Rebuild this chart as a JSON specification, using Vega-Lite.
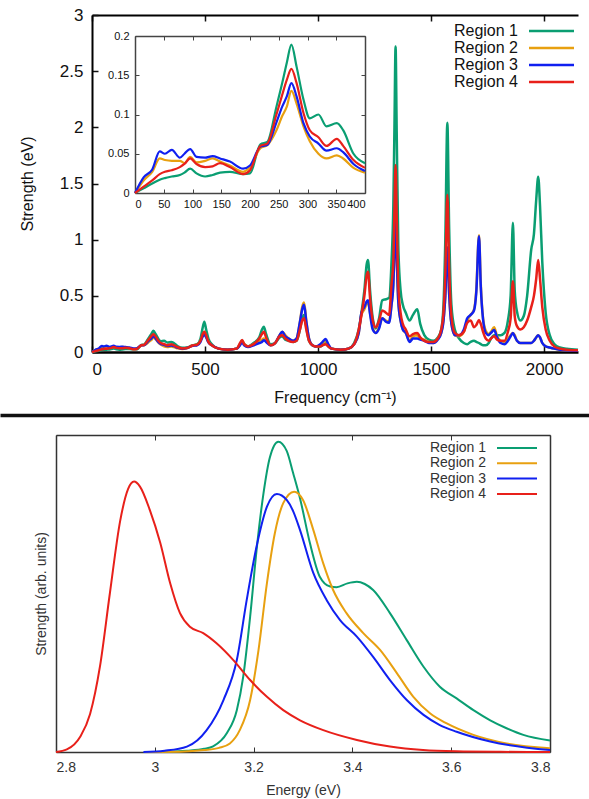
{
"$schema": "https://vega.github.io/schema/vega-lite/v6.json",
"width": 589, "height": 799, "autosize": {"type": "none"}, "padding": 0,
"config": {"view": {"stroke": null}, "font": "Liberation Sans",
 "axis": {"grid": false, "labelFont": "Liberation Sans", "titleFont": "Liberation Sans", "labelColor": "#111", "titleColor": "#111", "titleFontWeight": "normal", "domainColor": "#111", "tickColor": "#111"},
 "legend": {"labelFont": "Liberation Sans", "labelColor": "#111"}},
"datasets": {
"top": [
{"f":0,"R1":0,"R2":0,"R3":0,"R4":0},
{"f":15,"R1":0.006,"R2":0.016,"R3":0.02,"R4":0.008},
{"f":30,"R1":0.012,"R2":0.027,"R3":0.03,"R4":0.016},
{"f":43,"R1":0.017,"R2":0.044,"R3":0.053,"R4":0.024},
{"f":52,"R1":0.019,"R2":0.042,"R3":0.05,"R4":0.027},
{"f":64,"R1":0.021,"R2":0.041,"R3":0.055,"R4":0.029},
{"f":78,"R1":0.023,"R2":0.041,"R3":0.045,"R4":0.033},
{"f":86,"R1":0.026,"R2":0.038,"R3":0.05,"R4":0.037},
{"f":96,"R1":0.031,"R2":0.046,"R3":0.056,"R4":0.044},
{"f":107,"R1":0.025,"R2":0.039,"R3":0.046,"R4":0.037},
{"f":122,"R1":0.021,"R2":0.041,"R3":0.045,"R4":0.033},
{"f":135,"R1":0.023,"R2":0.044,"R3":0.047,"R4":0.034},
{"f":148,"R1":0.026,"R2":0.04,"R3":0.044,"R4":0.038},
{"f":165,"R1":0.027,"R2":0.035,"R3":0.04,"R4":0.033},
{"f":188,"R1":0.024,"R2":0.027,"R3":0.031,"R4":0.024},
{"f":200,"R1":0.025,"R2":0.033,"R3":0.035,"R4":0.029},
{"f":218,"R1":0.062,"R2":0.057,"R3":0.059,"R4":0.06},
{"f":230,"R1":0.065,"R2":0.061,"R3":0.061,"R4":0.063},
{"f":246,"R1":0.11,"R2":0.08,"R3":0.09,"R4":0.1},
{"f":256,"R1":0.14,"R2":0.098,"R3":0.11,"R4":0.125},
{"f":264,"R1":0.166,"R2":0.11,"R3":0.123,"R4":0.144},
{"f":272,"R1":0.189,"R2":0.13,"R3":0.14,"R4":0.158},
{"f":281,"R1":0.161,"R2":0.114,"R3":0.123,"R4":0.14},
{"f":293,"R1":0.119,"R2":0.085,"R3":0.089,"R4":0.102},
{"f":304,"R1":0.095,"R2":0.066,"R3":0.072,"R4":0.08},
{"f":319,"R1":0.1,"R2":0.05,"R3":0.063,"R4":0.071},
{"f":333,"R1":0.085,"R2":0.044,"R3":0.054,"R4":0.06},
{"f":351,"R1":0.089,"R2":0.048,"R3":0.057,"R4":0.069},
{"f":362,"R1":0.08,"R2":0.044,"R3":0.052,"R4":0.06},
{"f":380,"R1":0.05,"R2":0.032,"R3":0.037,"R4":0.042},
{"f":400,"R1":0.038,"R2":0.026,"R3":0.028,"R4":0.032},
{"f":420,"R1":0.04,"R2":0.035,"R3":0.035,"R4":0.035},
{"f":445,"R1":0.06,"R2":0.06,"R3":0.055,"R4":0.058},
{"f":465,"R1":0.07,"R2":0.065,"R3":0.06,"R4":0.065},
{"f":480,"R1":0.12,"R2":0.1,"R3":0.09,"R4":0.1},
{"f":490,"R1":0.22,"R2":0.15,"R3":0.14,"R4":0.16},
{"f":497,"R1":0.27,"R2":0.18,"R3":0.155,"R4":0.18},
{"f":505,"R1":0.2,"R2":0.14,"R3":0.13,"R4":0.15},
{"f":515,"R1":0.12,"R2":0.09,"R3":0.085,"R4":0.09},
{"f":530,"R1":0.07,"R2":0.06,"R3":0.06,"R4":0.06},
{"f":560,"R1":0.03,"R2":0.03,"R3":0.03,"R4":0.03},
{"f":600,"R1":0.02,"R2":0.02,"R3":0.02,"R4":0.02},
{"f":640,"R1":0.03,"R2":0.03,"R3":0.03,"R4":0.03},
{"f":655,"R1":0.07,"R2":0.07,"R3":0.06,"R4":0.08},
{"f":664,"R1":0.1,"R2":0.1,"R3":0.09,"R4":0.107},
{"f":673,"R1":0.07,"R2":0.07,"R3":0.06,"R4":0.07},
{"f":690,"R1":0.05,"R2":0.05,"R3":0.045,"R4":0.05},
{"f":715,"R1":0.08,"R2":0.07,"R3":0.06,"R4":0.07},
{"f":740,"R1":0.13,"R2":0.1,"R3":0.08,"R4":0.12},
{"f":752,"R1":0.2,"R2":0.11,"R3":0.09,"R4":0.16},
{"f":760,"R1":0.225,"R2":0.12,"R3":0.105,"R4":0.18},
{"f":770,"R1":0.16,"R2":0.1,"R3":0.09,"R4":0.13},
{"f":790,"R1":0.07,"R2":0.06,"R3":0.06,"R4":0.06},
{"f":810,"R1":0.08,"R2":0.08,"R3":0.08,"R4":0.08},
{"f":830,"R1":0.13,"R2":0.15,"R3":0.15,"R4":0.14},
{"f":842,"R1":0.14,"R2":0.18,"R3":0.18,"R4":0.15},
{"f":855,"R1":0.11,"R2":0.15,"R3":0.14,"R4":0.12},
{"f":870,"R1":0.1,"R2":0.12,"R3":0.12,"R4":0.1},
{"f":890,"R1":0.09,"R2":0.1,"R3":0.1,"R4":0.09},
{"f":905,"R1":0.1,"R2":0.12,"R3":0.12,"R4":0.1},
{"f":920,"R1":0.2,"R2":0.27,"R3":0.27,"R4":0.2},
{"f":930,"R1":0.3,"R2":0.4,"R3":0.38,"R4":0.28},
{"f":938,"R1":0.33,"R2":0.44,"R3":0.42,"R4":0.3},
{"f":948,"R1":0.22,"R2":0.28,"R3":0.27,"R4":0.2},
{"f":960,"R1":0.1,"R2":0.12,"R3":0.12,"R4":0.1},
{"f":975,"R1":0.06,"R2":0.06,"R3":0.06,"R4":0.06},
{"f":990,"R1":0.05,"R2":0.05,"R3":0.05,"R4":0.05},
{"f":1010,"R1":0.05,"R2":0.06,"R3":0.07,"R4":0.05},
{"f":1020,"R1":0.06,"R2":0.08,"R3":0.09,"R4":0.06},
{"f":1034,"R1":0.08,"R2":0.1,"R3":0.115,"R4":0.07},
{"f":1045,"R1":0.05,"R2":0.06,"R3":0.07,"R4":0.05},
{"f":1060,"R1":0.03,"R2":0.03,"R3":0.03,"R4":0.03},
{"f":1100,"R1":0.02,"R2":0.02,"R3":0.02,"R4":0.02},
{"f":1135,"R1":0.03,"R2":0.03,"R3":0.03,"R4":0.03},
{"f":1160,"R1":0.08,"R2":0.07,"R3":0.07,"R4":0.07},
{"f":1180,"R1":0.2,"R2":0.17,"R3":0.17,"R4":0.2},
{"f":1192,"R1":0.35,"R2":0.33,"R3":0.35,"R4":0.33},
{"f":1205,"R1":0.55,"R2":0.38,"R3":0.4,"R4":0.5},
{"f":1215,"R1":0.78,"R2":0.43,"R3":0.45,"R4":0.68},
{"f":1221,"R1":0.82,"R2":0.45,"R3":0.46,"R4":0.715},
{"f":1230,"R1":0.55,"R2":0.35,"R3":0.34,"R4":0.48},
{"f":1242,"R1":0.3,"R2":0.22,"R3":0.2,"R4":0.28},
{"f":1255,"R1":0.21,"R2":0.17,"R3":0.17,"R4":0.22},
{"f":1270,"R1":0.3,"R2":0.22,"R3":0.21,"R4":0.28},
{"f":1284,"R1":0.46,"R2":0.3,"R3":0.3,"R4":0.37},
{"f":1300,"R1":0.47,"R2":0.28,"R3":0.27,"R4":0.35},
{"f":1314,"R1":0.48,"R2":0.27,"R3":0.26,"R4":0.33},
{"f":1325,"R1":0.8,"R2":0.42,"R3":0.42,"R4":0.6},
{"f":1333,"R1":1.3,"R2":0.6,"R3":0.6,"R4":0.8},
{"f":1338,"R1":2.0,"R2":0.9,"R3":0.9,"R4":1.25},
{"f":1343,"R1":2.72,"R2":1.17,"R3":1.175,"R4":1.665},
{"f":1348,"R1":1.95,"R2":0.85,"R3":0.85,"R4":1.2},
{"f":1355,"R1":0.95,"R2":0.45,"R3":0.45,"R4":0.6},
{"f":1365,"R1":0.55,"R2":0.28,"R3":0.28,"R4":0.35},
{"f":1375,"R1":0.42,"R2":0.2,"R3":0.2,"R4":0.25},
{"f":1388,"R1":0.35,"R2":0.17,"R3":0.17,"R4":0.2},
{"f":1405,"R1":0.28,"R2":0.1,"R3":0.09,"R4":0.14},
{"f":1420,"R1":0.33,"R2":0.14,"R3":0.12,"R4":0.16},
{"f":1439,"R1":0.38,"R2":0.15,"R3":0.12,"R4":0.17},
{"f":1452,"R1":0.25,"R2":0.12,"R3":0.11,"R4":0.13},
{"f":1470,"R1":0.15,"R2":0.11,"R3":0.1,"R4":0.1},
{"f":1490,"R1":0.11,"R2":0.09,"R3":0.08,"R4":0.09},
{"f":1510,"R1":0.1,"R2":0.08,"R3":0.08,"R4":0.09},
{"f":1530,"R1":0.13,"R2":0.12,"R3":0.11,"R4":0.12},
{"f":1545,"R1":0.2,"R2":0.17,"R3":0.17,"R4":0.2},
{"f":1555,"R1":0.42,"R2":0.28,"R3":0.28,"R4":0.35},
{"f":1563,"R1":1.0,"R2":0.5,"R3":0.5,"R4":0.7},
{"f":1572,"R1":2.04,"R2":0.93,"R3":0.93,"R4":1.4},
{"f":1580,"R1":1.1,"R2":0.52,"R3":0.52,"R4":0.75},
{"f":1590,"R1":0.42,"R2":0.25,"R3":0.25,"R4":0.32},
{"f":1605,"R1":0.2,"R2":0.15,"R3":0.15,"R4":0.17},
{"f":1624,"R1":0.12,"R2":0.14,"R3":0.15,"R4":0.15},
{"f":1645,"R1":0.08,"R2":0.18,"R3":0.2,"R4":0.18},
{"f":1660,"R1":0.07,"R2":0.28,"R3":0.3,"R4":0.26},
{"f":1675,"R1":0.09,"R2":0.33,"R3":0.33,"R4":0.28},
{"f":1690,"R1":0.1,"R2":0.38,"R3":0.37,"R4":0.22},
{"f":1700,"R1":0.09,"R2":0.55,"R3":0.53,"R4":0.24},
{"f":1712,"R1":0.08,"R2":1.04,"R3":1.03,"R4":0.285},
{"f":1720,"R1":0.07,"R2":0.6,"R3":0.58,"R4":0.25},
{"f":1730,"R1":0.06,"R2":0.3,"R3":0.29,"R4":0.18},
{"f":1742,"R1":0.06,"R2":0.19,"R3":0.17,"R4":0.12},
{"f":1755,"R1":0.08,"R2":0.16,"R3":0.15,"R4":0.1},
{"f":1765,"R1":0.12,"R2":0.18,"R3":0.17,"R4":0.12},
{"f":1779,"R1":0.15,"R2":0.22,"R3":0.195,"R4":0.14},
{"f":1792,"R1":0.15,"R2":0.14,"R3":0.13,"R4":0.11},
{"f":1808,"R1":0.15,"R2":0.1,"R3":0.08,"R4":0.1},
{"f":1825,"R1":0.17,"R2":0.09,"R3":0.07,"R4":0.1},
{"f":1840,"R1":0.28,"R2":0.12,"R3":0.1,"R4":0.18},
{"f":1852,"R1":0.5,"R2":0.15,"R3":0.14,"R4":0.3},
{"f":1862,"R1":1.15,"R2":0.17,"R3":0.17,"R4":0.63},
{"f":1870,"R1":0.55,"R2":0.15,"R3":0.14,"R4":0.32},
{"f":1880,"R1":0.36,"R2":0.1,"R3":0.1,"R4":0.23},
{"f":1895,"R1":0.28,"R2":0.08,"R3":0.08,"R4":0.2},
{"f":1910,"R1":0.32,"R2":0.08,"R3":0.08,"R4":0.22},
{"f":1925,"R1":0.5,"R2":0.08,"R3":0.08,"R4":0.28},
{"f":1943,"R1":0.91,"R2":0.08,"R3":0.08,"R4":0.4},
{"f":1955,"R1":1.05,"R2":0.1,"R3":0.1,"R4":0.5},
{"f":1965,"R1":1.35,"R2":0.13,"R3":0.13,"R4":0.65},
{"f":1974,"R1":1.56,"R2":0.15,"R3":0.15,"R4":0.82},
{"f":1982,"R1":1.3,"R2":0.13,"R3":0.13,"R4":0.65},
{"f":1992,"R1":0.8,"R2":0.08,"R3":0.08,"R4":0.4},
{"f":2007,"R1":0.35,"R2":0.05,"R3":0.05,"R4":0.2},
{"f":2025,"R1":0.15,"R2":0.04,"R3":0.04,"R4":0.1},
{"f":2045,"R1":0.07,"R2":0.03,"R3":0.03,"R4":0.05},
{"f":2070,"R1":0.04,"R2":0.02,"R3":0.02,"R4":0.03},
{"f":2100,"R1":0.03,"R2":0.015,"R3":0.015,"R4":0.02},
{"f":2150,"R1":0.02,"R2":0.01,"R3":0.01,"R4":0.015}
],
"bot": [
{"s":"R1","e":2.98,"v":0},{"s":"R1","e":3.03,"v":0.001},{"s":"R1","e":3.065,"v":0.004},{"s":"R1","e":3.1,"v":0.01},{"s":"R1","e":3.118,"v":0.018},{"s":"R1","e":3.146,"v":0.06},{"s":"R1","e":3.166,"v":0.132},{"s":"R1","e":3.179,"v":0.238},{"s":"R1","e":3.193,"v":0.427},{"s":"R1","e":3.206,"v":0.637},{"s":"R1","e":3.22,"v":0.816},{"s":"R1","e":3.233,"v":0.93},{"s":"R1","e":3.25,"v":0.979},{"s":"R1","e":3.267,"v":0.95},{"s":"R1","e":3.28,"v":0.88},{"s":"R1","e":3.294,"v":0.8},{"s":"R1","e":3.314,"v":0.659},{"s":"R1","e":3.334,"v":0.553},{"s":"R1","e":3.355,"v":0.522},{"s":"R1","e":3.368,"v":0.52},{"s":"R1","e":3.39,"v":0.532},{"s":"R1","e":3.409,"v":0.537},{"s":"R1","e":3.425,"v":0.53},{"s":"R1","e":3.442,"v":0.511},{"s":"R1","e":3.476,"v":0.438},{"s":"R1","e":3.51,"v":0.353},{"s":"R1","e":3.544,"v":0.269},{"s":"R1","e":3.577,"v":0.206},{"s":"R1","e":3.611,"v":0.169},{"s":"R1","e":3.645,"v":0.132},{"s":"R1","e":3.679,"v":0.1},{"s":"R1","e":3.712,"v":0.075},{"s":"R1","e":3.746,"v":0.054},{"s":"R1","e":3.8,"v":0.036},
{"s":"R2","e":2.98,"v":0},{"s":"R2","e":3.05,"v":0.001},{"s":"R2","e":3.1,"v":0.006},{"s":"R2","e":3.13,"v":0.013},{"s":"R2","e":3.152,"v":0.027},{"s":"R2","e":3.172,"v":0.069},{"s":"R2","e":3.193,"v":0.164},{"s":"R2","e":3.21,"v":0.322},{"s":"R2","e":3.227,"v":0.533},{"s":"R2","e":3.243,"v":0.69},{"s":"R2","e":3.26,"v":0.785},{"s":"R2","e":3.282,"v":0.821},{"s":"R2","e":3.3,"v":0.795},{"s":"R2","e":3.321,"v":0.7},{"s":"R2","e":3.341,"v":0.595},{"s":"R2","e":3.361,"v":0.511},{"s":"R2","e":3.388,"v":0.438},{"s":"R2","e":3.422,"v":0.375},{"s":"R2","e":3.456,"v":0.322},{"s":"R2","e":3.49,"v":0.249},{"s":"R2","e":3.523,"v":0.175},{"s":"R2","e":3.557,"v":0.122},{"s":"R2","e":3.591,"v":0.09},{"s":"R2","e":3.645,"v":0.054},{"s":"R2","e":3.712,"v":0.027},{"s":"R2","e":3.8,"v":0.012},
{"s":"R3","e":2.977,"v":0},{"s":"R3","e":3.02,"v":0.004},{"s":"R3","e":3.065,"v":0.017},{"s":"R3","e":3.105,"v":0.069},{"s":"R3","e":3.139,"v":0.164},{"s":"R3","e":3.166,"v":0.29},{"s":"R3","e":3.186,"v":0.479},{"s":"R3","e":3.206,"v":0.648},{"s":"R3","e":3.227,"v":0.774},{"s":"R3","e":3.247,"v":0.814},{"s":"R3","e":3.267,"v":0.795},{"s":"R3","e":3.28,"v":0.76},{"s":"R3","e":3.294,"v":0.7},{"s":"R3","e":3.321,"v":0.564},{"s":"R3","e":3.348,"v":0.479},{"s":"R3","e":3.375,"v":0.416},{"s":"R3","e":3.409,"v":0.364},{"s":"R3","e":3.442,"v":0.3},{"s":"R3","e":3.476,"v":0.227},{"s":"R3","e":3.51,"v":0.164},{"s":"R3","e":3.544,"v":0.117},{"s":"R3","e":3.577,"v":0.085},{"s":"R3","e":3.611,"v":0.064},{"s":"R3","e":3.679,"v":0.033},{"s":"R3","e":3.8,"v":0.006},
{"s":"R4","e":2.8,"v":0},{"s":"R4","e":2.822,"v":0.008},{"s":"R4","e":2.849,"v":0.048},{"s":"R4","e":2.869,"v":0.12},{"s":"R4","e":2.889,"v":0.27},{"s":"R4","e":2.909,"v":0.5},{"s":"R4","e":2.93,"v":0.73},{"s":"R4","e":2.946,"v":0.83},{"s":"R4","e":2.958,"v":0.853},{"s":"R4","e":2.97,"v":0.837},{"s":"R4","e":2.99,"v":0.763},{"s":"R4","e":3.011,"v":0.66},{"s":"R4","e":3.031,"v":0.533},{"s":"R4","e":3.051,"v":0.438},{"s":"R4","e":3.071,"v":0.395},{"s":"R4","e":3.098,"v":0.375},{"s":"R4","e":3.125,"v":0.343},{"s":"R4","e":3.159,"v":0.29},{"s":"R4","e":3.193,"v":0.227},{"s":"R4","e":3.227,"v":0.174},{"s":"R4","e":3.26,"v":0.132},{"s":"R4","e":3.294,"v":0.1},{"s":"R4","e":3.341,"v":0.069},{"s":"R4","e":3.409,"v":0.038},{"s":"R4","e":3.476,"v":0.017},{"s":"R4","e":3.543,"v":0.006},{"s":"R4","e":3.61,"v":0.002},{"s":"R4","e":3.7,"v":0.0005},{"s":"R4","e":3.8,"v":0}
]
},
"resolve": {"scale": {"x": "independent", "y": "independent", "color": "independent"}, "axis": {"x": "independent", "y": "independent"}, "legend": {"color": "independent"}},
"layer": [
{
 "data": {"name": "top"},
 "transform": [{"fold": ["R1","R2","R3","R4"], "as": ["key","v"]}],
 "mark": {"type": "line", "strokeWidth": 2.5, "interpolate": "monotone"},
 "encoding": {
  "x": {"field": "f", "type": "quantitative", "scale": {"domain": [0, 2150], "range": [92, 578], "nice": false, "zero": false},
   "axis": {"orient": "bottom", "offset": -447, "values": [0,500,1000,1500,2000], "labelExpr": "'' + datum.value", "tickSize": -6, "tickWidth": 1.5, "labelPadding": 15, "labelFontSize": 17, "domainWidth": 2.5, "domainColor": "#000", "title": "Frequency (cm⁻¹)", "titleFontSize": 16, "titlePadding": 12}},
  "y": {"field": "v", "type": "quantitative", "scale": {"domain": [0, 3], "range": [352, 15], "nice": false},
   "axis": {"orient": "left", "offset": -92, "values": [0,0.5,1,1.5,2,2.5,3], "labelExpr": "'' + datum.value", "tickSize": -6, "tickWidth": 1.5, "labelPadding": 15, "labelFontSize": 17, "domainWidth": 2, "domainColor": "#000", "title": "Strength (eV)", "titleFontSize": 16, "titlePadding": 24}},
  "color": {"field": "key", "type": "nominal", "scale": {"domain": ["R1","R2","R3","R4"], "range": ["#0a9e72","#e8a010","#1020f0","#e8201a"]},
   "legend": {"orient": "none", "legendX": 521, "legendY": 23, "title": null, "padding": 0, "symbolType": "M0,0H9", "symbolSize": 100, "symbolStrokeWidth": 2.5, "labelFontSize": 16, "labelAlign": "right", "labelOffset": -19, "rowPadding": 1, "labelExpr": "replace(datum.label, 'R', 'Region ')"}}
 }
},
{
 "data": {"name": "top"},
 "mark": {"type": "point", "opacity": 0},
 "encoding": {
  "x": {"field": "f", "type": "quantitative", "scale": {"domain": [0, 2150], "range": [92, 578], "nice": false, "zero": false},
   "axis": {"orient": "top", "offset": -15, "values": [0,500,1000,1500,2000], "labels": false, "tickSize": -6, "tickWidth": 1.5, "domainWidth": 2, "domainColor": "#000", "title": null}},
  "y": {"field": "R1", "type": "quantitative", "scale": {"domain": [0, 3], "range": [352, 15], "nice": false}, "axis": null}
 }
},
{
 "data": {"name": "top"},
 "transform": [{"filter": "datum.f <= 400"}, {"fold": ["R1","R2","R3","R4"], "as": ["key","v"]}],
 "mark": {"type": "line", "strokeWidth": 2.2, "interpolate": "monotone"},
 "encoding": {
  "x": {"field": "f", "type": "quantitative", "scale": {"domain": [0, 400], "range": [135, 365], "nice": false, "zero": false},
   "axis": {"orient": "bottom", "offset": -606, "values": [0,50,100,150,200,250,300,350,400], "labelExpr": "'' + datum.value", "tickSize": -4, "labelPadding": 9, "labelFontSize": 11, "domainWidth": 1.5, "domainColor": "#444", "tickColor": "#444", "title": null}},
  "y": {"field": "v", "type": "quantitative", "scale": {"domain": [0, 0.2], "range": [193, 36], "nice": false},
   "axis": {"orient": "left", "offset": -135, "values": [0,0.05,0.1,0.15,0.2], "labelExpr": "'' + datum.value", "tickSize": -4, "labelPadding": 10, "labelFontSize": 11, "domainWidth": 1.5, "domainColor": "#444", "tickColor": "#444", "title": null}},
  "color": {"field": "key", "type": "nominal", "scale": {"domain": ["R1","R2","R3","R4"], "range": ["#0a9e72","#e8a010","#1020f0","#e8201a"]}, "legend": null}
 }
},
{
 "data": {"name": "top"},
 "transform": [{"filter": "datum.f <= 400"}],
 "mark": {"type": "point", "opacity": 0},
 "encoding": {
  "x": {"field": "f", "type": "quantitative", "scale": {"domain": [0, 400], "range": [135, 365], "nice": false, "zero": false},
   "axis": {"orient": "top", "offset": -36, "values": [0,50,100,150,200,250,300,350,400], "labels": false, "tickSize": -4, "domainWidth": 1.5, "domainColor": "#444", "tickColor": "#444", "title": null}},
  "y": {"field": "R1", "type": "quantitative", "scale": {"domain": [0, 0.2], "range": [193, 36], "nice": false},
   "axis": {"orient": "right", "offset": -224, "values": [0,0.05,0.1,0.15,0.2], "labels": false, "tickSize": -4, "domainWidth": 1.5, "domainColor": "#444", "tickColor": "#444", "title": null}}
 }
},
{
 "data": {"name": "bot"},
 "mark": {"type": "line", "strokeWidth": 2, "interpolate": "monotone"},
 "encoding": {
  "x": {"field": "e", "type": "quantitative", "scale": {"domain": [2.8, 3.8], "range": [56, 550], "nice": false, "zero": false},
   "axis": {"orient": "bottom", "offset": -47, "values": [2.8,3,3.2,3.4,3.6,3.8], "labelExpr": "'' + datum.value", "tickSize": -5, "labelPadding": 13, "labelFontSize": 14, "labelColor": "#333", "domainWidth": 1.5, "domainColor": "#333", "tickColor": "#333", "title": "Energy (eV)", "titleFontSize": 14, "titleColor": "#333", "titlePadding": 9}},
  "y": {"field": "v", "type": "quantitative", "scale": {"domain": [0, 1], "range": [752, 435], "nice": false},
   "axis": {"orient": "left", "offset": -56, "labels": false, "ticks": false, "domainWidth": 1.5, "domainColor": "#333", "title": "Strength (arb. units)", "titleFontSize": 14, "titleColor": "#333", "titlePadding": 8}},
  "color": {"field": "s", "type": "nominal", "scale": {"domain": ["R1","R2","R3","R4"], "range": ["#0a9e72","#e8a010","#1020f0","#e8201a"]},
   "legend": {"orient": "none", "legendX": 490, "legendY": 441, "title": null, "padding": 0, "symbolType": "M0,0H8", "symbolSize": 100, "symbolStrokeWidth": 2, "labelFontSize": 14, "labelColor": "#333", "labelAlign": "right", "labelOffset": -18, "rowPadding": 1.3, "labelExpr": "replace(datum.label, 'R', 'Region ')"}}
 }
},
{
 "data": {"name": "bot"},
 "mark": {"type": "point", "opacity": 0},
 "encoding": {
  "x": {"field": "e", "type": "quantitative", "scale": {"domain": [2.8, 3.8], "range": [56, 550], "nice": false, "zero": false},
   "axis": {"orient": "top", "offset": -435, "values": [2.8,3,3.2,3.4,3.6,3.8], "labels": false, "tickSize": -5, "domainWidth": 1.5, "domainColor": "#333", "tickColor": "#333", "title": null}},
  "y": {"field": "v", "type": "quantitative", "scale": {"domain": [0, 1], "range": [752, 435], "nice": false},
   "axis": {"orient": "right", "offset": -39, "labels": false, "ticks": false, "domainWidth": 1.5, "domainColor": "#333", "title": null}}
 }
},
{
 "data": {"name": "bot"},
 "mark": {"type": "point", "opacity": 0},
 "encoding": {
  "x": {"field": "e", "type": "quantitative", "scale": {"domain": [0, 1], "range": [0, 589], "nice": false, "zero": false},
   "axis": {"orient": "top", "offset": -415, "labels": false, "ticks": false, "domainWidth": 3.5, "domainColor": "#111", "title": null}},
  "y": {"field": "v", "type": "quantitative", "scale": {"domain": [0, 1], "range": [752, 435], "nice": false}, "axis": null}
 }
}
]
}
